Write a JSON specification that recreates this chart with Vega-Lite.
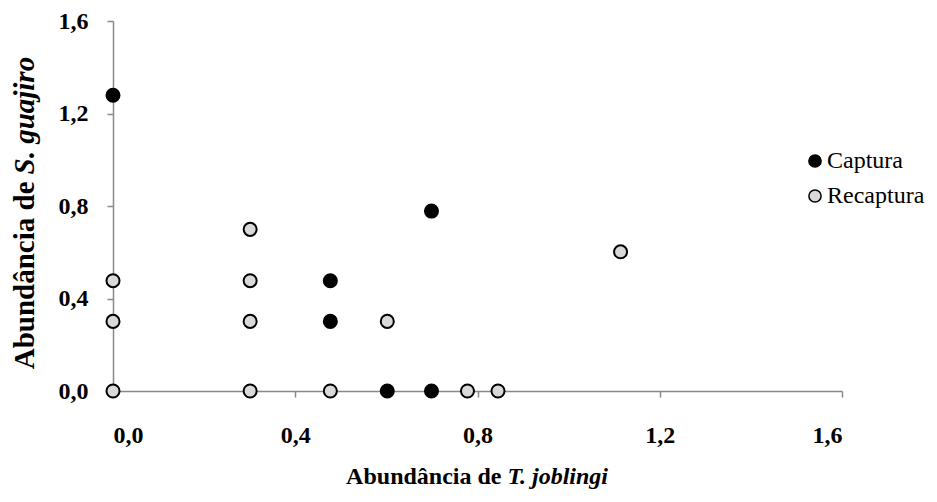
{
  "$schema": "https://vega.github.io/schema/vega-lite/v6.json",
  "width": 729,
  "height": 370,
  "autosize": {"type": "none"},
  "padding": {"left": 113, "top": 21, "right": 95, "bottom": 111},
  "background": "white",
  "data": {
    "values": [
      {"x": 0.0, "y": 1.279, "grupo": "Captura"},
      {"x": 0.699, "y": 0.778, "grupo": "Captura"},
      {"x": 0.477, "y": 0.477, "grupo": "Captura"},
      {"x": 0.477, "y": 0.301, "grupo": "Captura"},
      {"x": 0.602, "y": 0.0, "grupo": "Captura"},
      {"x": 0.699, "y": 0.0, "grupo": "Captura"},
      {"x": 0.0, "y": 0.0, "grupo": "Recaptura"},
      {"x": 0.0, "y": 0.301, "grupo": "Recaptura"},
      {"x": 0.0, "y": 0.477, "grupo": "Recaptura"},
      {"x": 0.301, "y": 0.699, "grupo": "Recaptura"},
      {"x": 0.301, "y": 0.477, "grupo": "Recaptura"},
      {"x": 0.301, "y": 0.301, "grupo": "Recaptura"},
      {"x": 0.301, "y": 0.0, "grupo": "Recaptura"},
      {"x": 0.477, "y": 0.0, "grupo": "Recaptura"},
      {"x": 0.602, "y": 0.301, "grupo": "Recaptura"},
      {"x": 0.778, "y": 0.0, "grupo": "Recaptura"},
      {"x": 0.845, "y": 0.0, "grupo": "Recaptura"},
      {"x": 1.114, "y": 0.602, "grupo": "Recaptura"}
    ]
  },
  "config": {
    "view": {"stroke": null},
    "font": "Liberation Serif",
    "axis": {
      "grid": false,
      "domainColor": "#898989",
      "domainWidth": 1.5,
      "tickColor": "#898989",
      "tickWidth": 1.5,
      "tickSize": 6,
      "labelFont": "Liberation Serif",
      "labelFontWeight": "bold",
      "labelFontSize": 24,
      "labelColor": "black",
      "titleFont": "Liberation Serif",
      "titleFontWeight": "bold",
      "titleFontSize": 24,
      "titleColor": "black"
    },
    "legend": {
      "labelFont": "Liberation Serif",
      "labelFontSize": 24,
      "labelFontWeight": "normal",
      "labelColor": "black"
    }
  },
  "layer": [
    {
      "mark": {"type": "point", "shape": "circle", "filled": true, "size": 170, "stroke": "black", "strokeWidth": 2, "opacity": 1},
      "encoding": {
        "x": {
          "field": "x", "type": "quantitative",
          "scale": {"domain": [0, 1.6], "nice": false, "zero": true},
          "axis": {
            "orient": "bottom",
            "values": [0, 0.4, 0.8, 1.2, 1.6],
            "labelExpr": "replace(format(datum.value, '.1f'), '.', ',')",
            "labelPadding": 26,
            "title": "Abundância de",
            "titleAlign": "right",
            "titleAnchor": null,
            "titleBaseline": "alphabetic",
            "titleX": 388,
            "titleY": 92
          }
        },
        "y": {
          "field": "y", "type": "quantitative",
          "scale": {"domain": [0, 1.6], "nice": false, "zero": true},
          "axis": {
            "orient": "left",
            "values": [0, 0.4, 0.8, 1.2, 1.6],
            "labelExpr": "replace(format(datum.value, '.1f'), '.', ',')",
            "labelPadding": 19,
            "title": "Abundância de",
            "titleFontSize": 29,
            "titleAngle": -90,
            "titleAlign": "right",
            "titleAnchor": null,
            "titleBaseline": "alphabetic",
            "titleX": -80,
            "titleY": 160
          }
        },
        "fill": {
          "field": "grupo", "type": "nominal",
          "scale": {"domain": ["Captura", "Recaptura"], "range": ["#000000", "#d9d9d9"]},
          "legend": {
            "title": null,
            "orient": "none",
            "legendX": 690,
            "legendY": 128,
            "padding": 0,
            "symbolType": "circle",
            "symbolSize": 150,
            "symbolStrokeColor": "black",
            "symbolStrokeWidth": 1.5,
            "labelFont": "Liberation Serif",
            "labelFontSize": 24,
            "labelColor": "black",
            "labelOffset": 0,
            "rowPadding": 11
          }
        }
      }
    },
    {
      "mark": {"type": "point", "opacity": 0},
      "encoding": {
        "x": {
          "field": "x", "type": "quantitative",
          "scale": {"domain": [0, 1.6], "nice": false, "zero": true},
          "axis": {
            "orient": "top",
            "domain": false, "ticks": false, "labels": false, "grid": false,
            "title": "T. joblingi",
            "titleFontStyle": "italic",
            "titleAlign": "left",
            "titleAnchor": null,
            "titleBaseline": "alphabetic",
            "titleX": 394,
            "titleY": 462
          }
        },
        "y": {
          "field": "y", "type": "quantitative",
          "scale": {"domain": [0, 1.6], "nice": false, "zero": true},
          "axis": {
            "orient": "right",
            "domain": false, "ticks": false, "labels": false, "grid": false,
            "title": "S. guajiro",
            "titleFontSize": 29,
            "titleFontStyle": "italic",
            "titleAngle": -90,
            "titleAlign": "left",
            "titleAnchor": null,
            "titleBaseline": "alphabetic",
            "titleX": -809,
            "titleY": 153
          }
        }
      }
    }
  ],
  "resolve": {"axis": {"x": "independent", "y": "independent"}}
}
